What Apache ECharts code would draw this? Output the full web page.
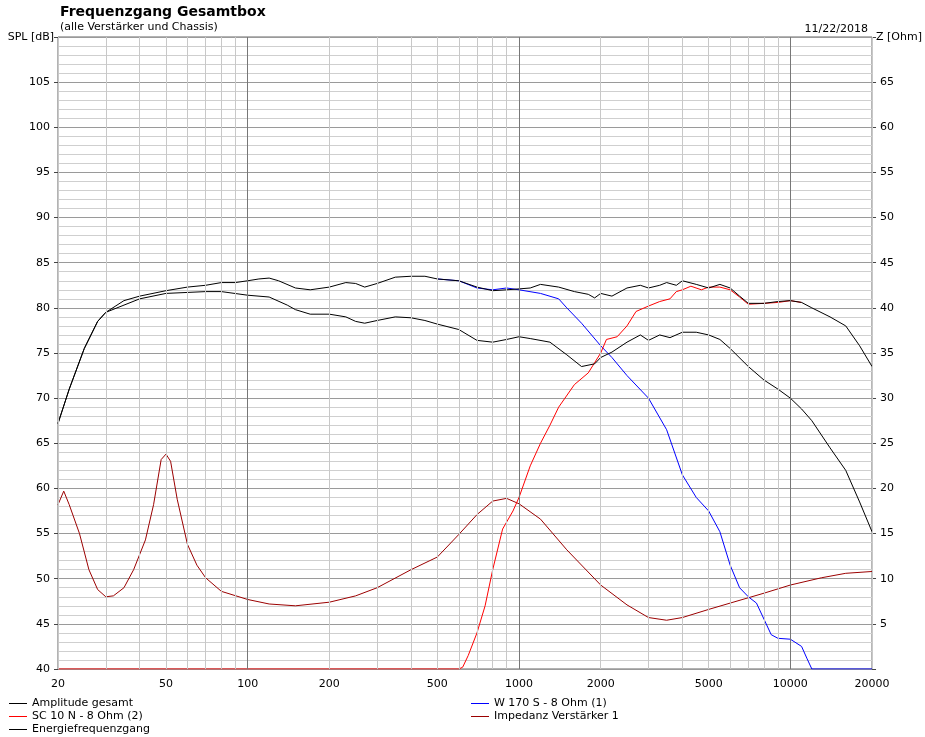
<!doctype html>
<html>
<head>
<meta charset="UTF-8">
<title>Frequenzgang Gesamtbox</title>
<script src="https://cdn.jsdelivr.net/npm/echarts@6/dist/echarts.min.js"></script>
<style>
  html, body { margin: 0; padding: 0; background: #fff; }
  #main { width: 925px; height: 737px; }
</style>
</head>
<body>
<div id="main"></div>
<script>
// Frequenzen und Pegel (dB / Ohm)
var ampFreq = [20,22,25,28,30,35,40,50,60,70,80,90,100,110,120,130,150,170,200,230,250,270,300,350,400,450,500,600,700,800,900,1000,1100,1200,1400,1600,1800,1900,2000,2200,2500,2800,3000,3300,3500,3800,4000,4500,5000,5500,6000,6500,7000,8000,9000,10000,11000,12000,14000,16000,18000,20000];
var ampDb   = [67.2,71,75.5,78.5,79.5,80.8,81.3,81.9,82.3,82.5,82.8,82.8,83,83.2,83.3,83,82.2,82,82.3,82.8,82.7,82.3,82.7,83.4,83.5,83.5,83.2,83,82.3,81.9,82,82.1,82.2,82.6,82.3,81.8,81.5,81.1,81.6,81.3,82.2,82.5,82.2,82.5,82.8,82.5,83,82.6,82.2,82.6,82.2,81.3,80.5,80.5,80.7,80.8,80.6,80,79,78,75.8,73.5];

var engFreq = [20,22,25,28,30,40,50,70,80,100,120,140,150,170,200,230,250,270,300,350,400,450,500,600,700,800,900,1000,1100,1300,1500,1700,1900,2000,2200,2500,2800,3000,3300,3600,4000,4500,5000,5500,6000,7000,8000,9000,10000,11000,12000,14000,16000,18000,20000];
var engDb   = [67.2,71,75.5,78.5,79.5,81,81.6,81.8,81.8,81.4,81.2,80.3,79.8,79.3,79.3,79,78.5,78.3,78.6,79,78.9,78.6,78.2,77.6,76.4,76.2,76.5,76.8,76.6,76.2,74.8,73.5,73.8,74.5,75.1,76.2,77,76.4,77,76.7,77.3,77.3,77,76.5,75.5,73.5,72,71,70,68.8,67.5,64.5,62,58.5,55.2];

var wooFreq = [500,600,700,800,900,1000,1200,1400,1500,1700,2000,2200,2500,3000,3500,4000,4500,5000,5500,6000,6500,7000,7500,8000,8500,9000,10000,11000,11500,12000,20000];
var wooDb   = [83.2,83,82.2,82,82.2,82,81.6,81,80,78.3,75.8,74.5,72.5,70,66.5,61.5,59,57.5,55.2,51.5,49,48,47.3,45.5,43.8,43.4,43.3,42.5,41.2,40,40];

var twtFreq = [20,600,620,650,700,750,800,870,950,1000,1100,1200,1300,1400,1600,1800,2000,2100,2300,2500,2700,3000,3300,3600,3800,4000,4300,4700,5000,5500,6000,6500,7000,8000,9000,10000,11000];
var twtDb   = [40,40,40.2,41.5,44,47,51,55.5,57.5,59,62.5,65,67,69,71.5,72.8,75,76.5,76.8,78,79.6,80.2,80.7,81,81.8,82,82.4,82,82.3,82.3,82,81.2,80.4,80.5,80.6,80.8,80.6];

var impFreq = [20,21,22,24,26,28,30,32,35,38,42,45,48,50,52,55,60,65,70,80,100,120,150,200,250,300,400,500,600,700,800,900,1000,1200,1500,2000,2500,3000,3500,4000,5000,6000,8000,10000,13000,16000,20000];
var impOhm  = [18.2,19.7,18.2,15,11,8.8,8,8.1,9,11,14.3,18.2,23.2,23.8,23,18.8,13.8,11.5,10.1,8.6,7.7,7.2,7,7.4,8.1,9,11,12.4,14.9,17.1,18.6,18.9,18.3,16.6,13.2,9.3,7.1,5.7,5.4,5.7,6.6,7.3,8.4,9.3,10.1,10.6,10.8];

var xLabels = [20,50,100,200,500,1000,2000,5000,10000,20000];
var xMinor = [20,30,40,50,60,70,80,90,200,300,400,500,600,700,800,900,2000,3000,4000,5000,6000,7000,8000,9000,20000];
var xMajor = [100,1000,10000];

function pairs(f, v) {
    var out = [];
    for (var i = 0; i < f.length; i++) out.push([f[i], v[i]]);
    return out;
}

var font = 'DejaVu Sans';
var chart = echarts.init(document.getElementById('main'));

function lineSeries(name, f, v, color, yIdx) {
    return {
        name: name, type: 'line', data: pairs(f, v), yAxisIndex: yIdx || 0,
        symbol: 'none', lineStyle: { color: color, width: 1 }, itemStyle: { color: color },
        animation: false
    };
}

var legendStyle = { orient: 'vertical', top: 693, height: 44, width: 300, itemGap: 2, itemWidth: 18, itemHeight: 10,
    icon: 'path://M0,4 L18,4 L18,5 L0,5 Z', textStyle: { fontSize: 11, color: '#000', fontFamily: font } };

var option = {
    animation: false,
    textStyle: { fontFamily: font },
    title: [
        { text: 'Frequenzgang Gesamtbox', subtext: '(alle Verstärker und Chassis)', left: 55, top: 0,
          textStyle: { fontSize: 14, fontWeight: 'bold', color: '#000', fontFamily: font },
          subtextStyle: { fontSize: 11, color: '#000', fontFamily: font }, itemGap: 3 },
        { text: '11/22/2018', right: 52, top: 19, textStyle: { fontSize: 11, fontWeight: 'normal', color: '#000', fontFamily: font } }
    ],
    grid: { left: 58, right: 52, top: 37, bottom: 68, containLabel: false, show: true, borderColor: '#666', borderWidth: 1 },
    legend: [
        Object.assign({ data: ['Amplitude gesamt', 'SC 10 N - 8 Ohm (2)', 'Energiefrequenzgang'], left: 4 }, legendStyle),
        Object.assign({ data: ['W 170 S - 8 Ohm (1)', 'Impedanz Verstärker 1'], left: 466 }, legendStyle)
    ],
    xAxis: {
        type: 'log', min: 20, max: 20000, logBase: 10,
        axisLine: { show: false }, axisTick: { show: false }, splitLine: { show: false },
        axisLabel: { customValues: xLabels, color: '#000', fontSize: 11, margin: 10, fontFamily: font,
                     formatter: function (v) { return String(Math.round(v)); } }
    },
    yAxis: [
        { type: 'value', min: 40, max: 110, interval: 5, name: 'SPL [dB]', nameLocation: 'end', nameGap: -6,
          nameTextStyle: { align: 'right', padding: [0, 4, 0, 0], color: '#000', fontSize: 11, verticalAlign: 'bottom' },
          axisLine: { show: false }, axisTick: { show: true, length: 4, lineStyle: { color: '#444' } },
          axisLabel: { color: '#000', fontSize: 11, margin: 8, formatter: function (v) { return v === 110 ? '' : v; } },
          splitLine: { show: true, lineStyle: { color: '#9a9a9a', width: 1 } },
          minorTick: { show: false, splitNumber: 5 },
          minorSplitLine: { show: true, lineStyle: { color: '#cfcfcf', width: 1 } } },
        { type: 'value', min: 0, max: 70, interval: 5, name: 'Z [Ohm]', nameLocation: 'end', nameGap: -6,
          nameTextStyle: { align: 'left', padding: [0, 0, 0, 4], color: '#000', fontSize: 11, verticalAlign: 'bottom' },
          axisLine: { show: false }, axisTick: { show: true, length: 4, lineStyle: { color: '#444' } },
          axisLabel: { color: '#000', fontSize: 11, margin: 8, formatter: function (v) { return (v === 0 || v === 70) ? '' : v; } },
          splitLine: { show: false } }
    ],
    series: [
        { type: 'line', data: [], silent: true, z: 1,
          markLine: { silent: true, symbol: 'none', label: { show: false }, animation: false,
            lineStyle: { color: '#c8c8c8', width: 1, type: 'solid' },
            data: xMinor.map(function (f) { return { xAxis: f }; }) } },
        { type: 'line', data: [], silent: true, z: 1,
          markLine: { silent: true, symbol: 'none', label: { show: false }, animation: false,
            lineStyle: { color: '#777', width: 1, type: 'solid' },
            data: xMajor.map(function (f) { return { xAxis: f }; }) } },
        lineSeries('Impedanz Verstärker 1', impFreq, impOhm, '#9b0000', 1),
        lineSeries('W 170 S - 8 Ohm (1)', wooFreq, wooDb, '#0000ff'),
        lineSeries('SC 10 N - 8 Ohm (2)', twtFreq, twtDb, '#ff0000'),
        lineSeries('Energiefrequenzgang', engFreq, engDb, '#000'),
        lineSeries('Amplitude gesamt', ampFreq, ampDb, '#000')
    ]
};
chart.setOption(option);
</script>
</body>
</html>
